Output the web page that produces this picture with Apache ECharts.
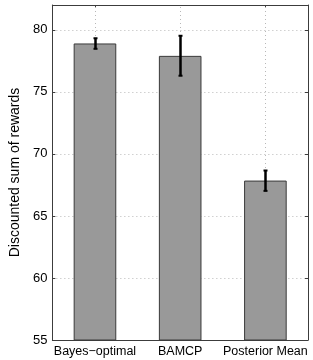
<!DOCTYPE html>
<html>
<head>
<meta charset="utf-8">
<script src="https://cdn.jsdelivr.net/npm/echarts@6/dist/echarts.min.js"></script>
<style>html,body{margin:0;padding:0;background:#fff}#c{width:313px;height:360px}</style>
</head>
<body>
<div id="c"></div>
<script>
var categories = ['Bayes\u2212optimal', 'BAMCP', 'Posterior Mean'];
var means = [78.9, 77.9, 67.85];
var errLow = [78.47, 76.3, 67.02];
var errHigh = [79.32, 79.52, 68.66];
var yTicks = [55, 60, 65, 70, 75, 80];
var yMin = 55, yMax = 82;

var font = 'Liberation Sans, Arial, Helvetica, sans-serif';
var axisCol = '#3c3c3c';
var gridStyle = {color: '#b8b8b8', type: [1, 3], width: 1};

var chart = echarts.init(document.getElementById('c'), null, {renderer: 'canvas'});
chart.setOption({
  animation: false,
  backgroundColor: '#fff',
  grid: {left: 42, right: 5, top: 5, bottom: 20, containLabel: false},
  xAxis: [{
    type: 'category', data: categories, position: 'bottom',
    axisLine: {lineStyle: {color: axisCol, width: 1}},
    axisTick: {show: true, inside: true, alignWithLabel: true, length: 3, lineStyle: {color: axisCol}},
    axisLabel: {color: '#000', fontFamily: font, fontSize: 12.5, margin: 5, interval: 0},
    splitLine: {show: false}
  }, {
    type: 'category', data: categories, position: 'top',
    axisLine: {show: true, lineStyle: {color: axisCol, width: 1}},
    axisTick: {show: true, inside: true, alignWithLabel: true, length: 3, lineStyle: {color: axisCol}},
    axisLabel: {show: false},
    splitLine: {show: false}
  }],
  yAxis: [{
    type: 'value', min: yMin, max: yMax, interval: 5,
    name: 'Discounted sum of rewards', nameLocation: 'middle', nameGap: 23,
    nameTextStyle: {color: '#000', fontFamily: font, fontSize: 14},
    axisLine: {show: true, lineStyle: {color: axisCol, width: 1}},
    axisTick: {show: true, inside: true, length: 3, lineStyle: {color: axisCol}},
    axisLabel: {color: '#000', fontFamily: font, fontSize: 13, margin: 5,
      formatter: function (v) { return yTicks.indexOf(v) >= 0 ? String(v) : ''; }},
    splitLine: {show: true, lineStyle: gridStyle}
  }, {
    type: 'value', min: yMin, max: yMax, interval: 5, position: 'right',
    axisLine: {show: true, lineStyle: {color: axisCol, width: 1}},
    axisTick: {show: true, inside: true, length: 3, lineStyle: {color: axisCol}},
    axisLabel: {show: false},
    splitLine: {show: false}
  }],
  series: [{
    type: 'bar', data: means, barWidth: '50%', z: 2,
    itemStyle: {color: '#999999', borderColor: '#3a3a3a', borderWidth: 1},
    markLine: {
      silent: true, symbol: 'none', label: {show: false},
      lineStyle: gridStyle, z: 1,
      data: categories.map(function (c) { return {xAxis: c}; })
    }
  }, {
    type: 'custom', z: 5,
    data: categories.map(function (c, i) { return [i, errLow[i], errHigh[i]]; }),
    renderItem: function (params, api) {
      var lo = api.coord([api.value(0), api.value(1)]);
      var hi = api.coord([api.value(0), api.value(2)]);
      var x = Math.round(lo[0]) + 0.5;
      var st = {stroke: '#000', lineWidth: 2.5};
      return {type: 'group', children: [
        {type: 'line', shape: {x1: x, y1: lo[1], x2: x, y2: hi[1]}, style: st},
        {type: 'line', shape: {x1: x - 2, y1: lo[1], x2: x + 2, y2: lo[1]}, style: {stroke: '#000', lineWidth: 2}},
        {type: 'line', shape: {x1: x - 2, y1: hi[1], x2: x + 2, y2: hi[1]}, style: {stroke: '#000', lineWidth: 2}}
      ]};
    }
  }]
});
</script>
</body>
</html>
